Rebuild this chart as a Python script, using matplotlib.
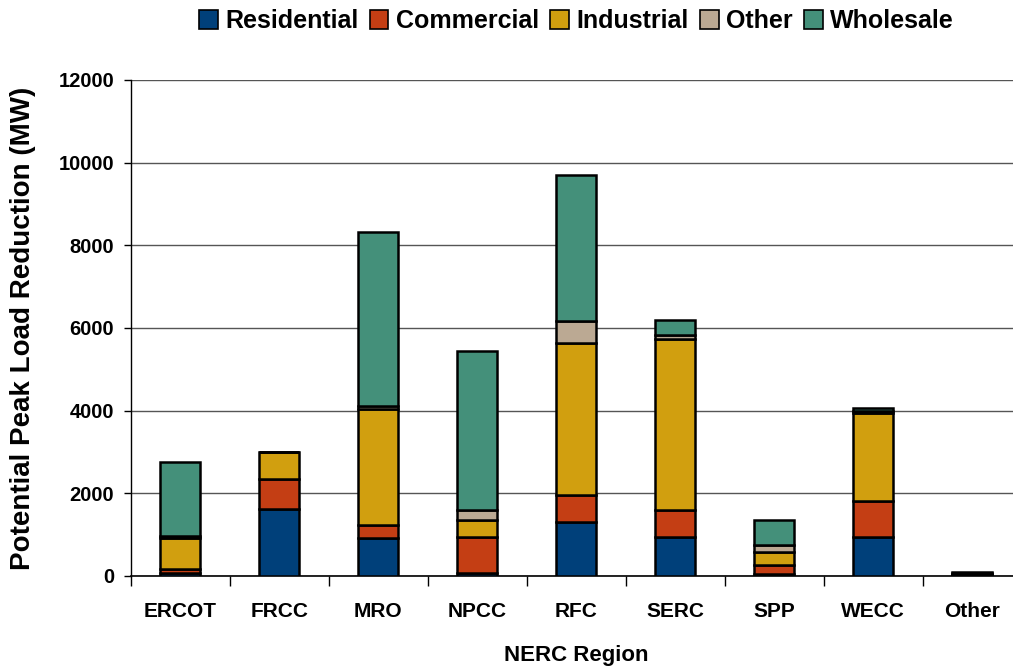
import numpy as np
import matplotlib.pyplot as plt
from matplotlib.patches import Patch

# data (MW)
regions = ['ERCOT', 'FRCC', 'MRO', 'NPCC', 'RFC', 'SERC', 'SPP', 'WECC', 'Other']
residential = [80, 1630, 910, 80, 1310, 950, 40, 950, 30]
commercial = [100, 725, 315, 870, 640, 640, 225, 865, 15]
industrial = [750, 635, 2820, 405, 3690, 4135, 322, 2140, 25]
other = [30, 0, 70, 233, 540, 97, 162, 45, 10]
wholesale = [1810, 0, 4210, 3857, 3510, 363, 613, 55, 15]

series = [('Residential', residential, '#00407A'),
          ('Commercial', commercial, '#C43E14'),
          ('Industrial', industrial, '#D19F0F'),
          ('Other', other, '#BBA993'),
          ('Wholesale', wholesale, '#44907A')]

plt.rcParams['font.family'] = ['Liberation Sans', 'DejaVu Sans']
plt.rcParams['font.weight'] = 'bold'

fig = plt.figure(figsize=(10.13, 6.70), dpi=100)
ax = fig.add_axes([0.129, 0.1403, 0.8796, 0.7403])

x = np.arange(len(regions))
bottom = np.zeros(len(regions))
for name, vals, col in series:
    ax.bar(x, vals, 0.4, bottom=bottom, color=col, edgecolor='black',
           linewidth=1.8, label=name, zorder=3)
    bottom += np.array(vals)

ax.set_xlim(-0.5, len(regions) - 0.5)
ax.set_ylim(0, 12000)
ax.set_yticks(np.arange(0, 12001, 2000))
ax.yaxis.grid(True, color='#555555', linewidth=1, zorder=0)
ax.set_axisbelow(True)

ax.set_xticks(x)
ax.set_xticklabels(regions, fontsize=15, fontweight='bold')
ax.set_xticks(np.arange(-0.5, len(regions)), minor=True)
ax.tick_params(axis='x', which='major', length=0, pad=19)
ax.tick_params(axis='x', which='minor', length=7, width=1, direction='out')
ax.tick_params(axis='y', length=5, width=1, direction='out', pad=7, labelsize=14.5)
for lab in ax.get_yticklabels():
    lab.set_fontweight('bold')

for side in ['top', 'right']:
    ax.spines[side].set_visible(False)
ax.spines['left'].set_linewidth(1)
ax.spines['bottom'].set_linewidth(1.2)

ax.set_xlabel('NERC Region', fontsize=16, fontweight='bold', labelpad=17)
ax.set_ylabel('Potential Peak Load Reduction (MW)', fontsize=20,
              fontweight='bold', labelpad=16)

handles = [Patch(facecolor=c, edgecolor='black', linewidth=1.2) for _, _, c in series]
fig.legend(handles, [n for n, _, _ in series], loc='upper center',
           bbox_to_anchor=(0.569, 1.02), ncol=5, frameon=False, fontsize=18,
           handlelength=0.75, handleheight=0.75, handletextpad=0.3,
           columnspacing=0.45)

fig.savefig('out.png', dpi=100)
